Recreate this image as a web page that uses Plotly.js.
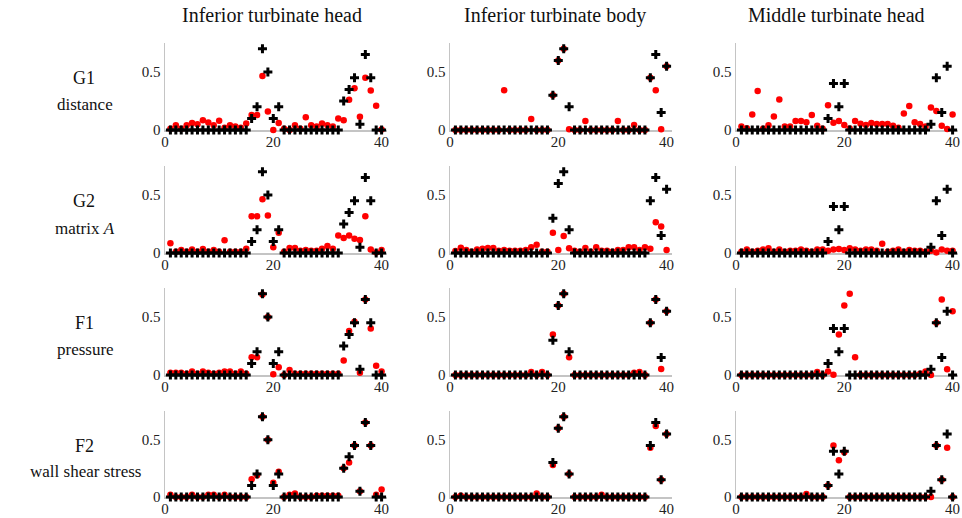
<!DOCTYPE html>
<html>
<head>
<meta charset="utf-8">
<script src="https://cdn.plot.ly/plotly-3.0.1.min.js"></script>
<style>html,body{margin:0;padding:0;background:#fff;}#chart{width:962px;height:518px;}</style>
</head>
<body>
<div id="chart"></div>
<script>
// ---- data ----
const sensorIndex = [1,2,3,4,5,6,7,8,9,10,11,12,13,14,15,16,17,18,19,20,21,22,23,24,25,26,27,28,29,30,31,32,33,34,35,36,37,38,39,40];

const columnTitles = ['Inferior turbinate head', 'Inferior turbinate body', 'Middle turbinate head'];
const rowNames = ['G1', 'G2', 'F1', 'F2'];
const rowSubtitles = ['distance', 'matrix <i>A</i>', 'pressure', 'wall shear stress'];

// ground truth (black +)
const truthHead   = [0,0,0,0,0,0,0,0,0,0,0,0,0,0,0,0.1,0.2,0.7,0.5,0.1,0.2,0,0,0,0,0,0,0,0,0,0,0,0.25,0.35,0.45,0.05,0.65,0.45,0,0];
const truthBody   = [0,0,0,0,0,0,0,0,0,0,0,0,0,0,0,0,0,0,0.3,0.6,0.7,0.2,0,0,0,0,0,0,0,0,0,0,0,0,0,0,0.45,0.65,0.15,0.55];
const truthMiddle = [0,0,0,0,0,0,0,0,0,0,0,0,0,0,0,0,0.1,0.4,0.2,0.4,0,0,0,0,0,0,0,0,0,0,0,0,0,0,0,0.05,0.45,0.15,0.55,0];

// estimates (red dots)
const g1Head   = [0.01,0.04,0.01,0.04,0.06,0.05,0.085,0.065,0.04,0.08,0.02,0.04,0.03,0.02,0.055,0.13,0.13,0.465,0.16,0.0,0.06,0.01,0.0,0.04,0.01,0.11,0.04,0.03,0.055,0.04,0.03,0.1,0.085,0.26,0.36,0.115,0.45,0.34,0.21,0.005];
const g1Body   = [0,0,0,0,0,0,0,0,0,0.343,0,0,0,0,0.094,0,0,0,0.3,0.6,0.7,0.006,0,0,0.077,0,0,0,0,0,0.077,0,0,0.043,0,0,0.45,0.343,0.006,0.55];
const g1Middle = [0.03,0.015,0.134,0.337,0.01,0.04,0.117,0.263,0.03,0.03,0.077,0.077,0.066,0.129,0.037,0.01,0.214,0.063,0.077,0.043,0.014,0.077,0.054,0.043,0.06,0.051,0.051,0.051,0.037,0.02,0.143,0.206,0.066,0.051,0.03,0.194,0.163,0.037,0.009,0.134];

const g2Head   = [0.083,0.01,0.026,0.01,0.03,0.01,0.034,0.01,0.026,0.01,0.109,0.01,0.01,0.01,0.037,0.317,0.317,0.463,0.323,0.049,0.174,0.01,0.043,0.043,0.02,0.026,0.02,0.02,0.037,0.06,0.037,0.151,0.129,0.151,0.123,0.111,0.317,0.031,0.005,0.026];
const g2Body   = [0.017,0.046,0.026,0.01,0.03,0.037,0.043,0.043,0.02,0.026,0.02,0.02,0.02,0.026,0.049,0.071,0.011,0.01,0.174,0.026,0.146,0.04,0.02,0.01,0.043,0.01,0.049,0.02,0.02,0.01,0.026,0.026,0.049,0.049,0.026,0.049,0.037,0.266,0.229,0.026];
const g2Middle = [0.01,0.03,0.01,0.02,0.03,0.04,0.01,0.03,0.01,0.02,0.02,0.03,0.02,0.01,0.03,0.03,0.02,0.03,0.035,0.025,0.04,0.03,0.02,0.03,0.03,0.02,0.08,0.01,0.02,0.03,0.01,0.025,0.02,0.02,0.01,0.02,0.005,0.03,0.02,0.02];

const f1Head   = [0.02,0.02,0.02,0.01,0.03,0.01,0.03,0.02,0.01,0.02,0.03,0.03,0.01,0.03,0.01,0.154,0.154,0.695,0.5,0.006,0.067,0.0,0.044,0.01,0.01,0.01,0.01,0.01,0.01,0.01,0.01,0.01,0.125,0.38,0.46,0.02,0.65,0.40,0.08,0.03];
const f1Body   = [0,0,0,0,0,0,0,0,0,0,0,0,0,0,0.026,0,0.026,0,0.35,0.6,0.7,0.154,0,0,0,0,0,0,0,0,0,0,0,0.02,0.026,0,0.45,0.65,0.052,0.55];
const f1Middle = [0,0,0,0,0,0,0,0,0,0,0,0,0,0,0.026,0,0.03,0.003,0.35,0.6,0.7,0.154,0,0,0,0,0,0,0,0,0,0,0,0.01,0.03,0.0,0.45,0.65,0.05,0.55];

const f2Head   = [0.02,0,0,0,0.02,0,0,0.02,0.02,0,0.02,0,0,0,0,0.155,0.19,0.7,0.5,0.125,0.22,0,0.02,0.03,0,0,0,0.01,0.01,0.01,0.01,0.01,0.25,0.30,0.45,0.05,0.65,0.45,0.02,0.065];
const f2Body   = [0,0.01,0,0,0,0,0,0,0,0,0,0,0,0,0,0.03,0,0,0.28,0.6,0.7,0.2,0,0,0,0,0,0.02,0,0,0,0,0,0,0,0,0.43,0.62,0.15,0.55];
const f2Middle = [0,0,0,0,0,0,0,0,0,0,0,0,0.026,0,0,0,0.1,0.45,0.32,0.39,0,0,0,0,0,0,0,0,0,0,0,0,0,0,0,0.0,0.45,0.15,0.43,0];

const xTickVals = [0, 20, 40];
const yTickVals = [0, 0.5];
const yTickText = ['0', '0.5'];

// ---- build ----
const truths = [truthHead, truthBody, truthMiddle];
const estimates = [
  [g1Head, g1Body, g1Middle],
  [g2Head, g2Body, g2Middle],
  [f1Head, f1Body, f1Middle],
  [f2Head, f2Body, f2Middle]
];

const W = 962, H = 518;
const colPx = [[165, 387], [450, 672], [736, 958]];
const rowPx = [[43, 130], [166, 253], [288, 375], [411, 497]];
const font = '"Liberation Serif", "Times New Roman", serif';

const data = [];
const layout = {
  width: W, height: H,
  margin: {l: 0, r: 0, t: 0, b: 0},
  paper_bgcolor: '#fff', plot_bgcolor: '#fff',
  showlegend: false,
  font: {family: font, color: '#222', size: 15},
  annotations: []
};

for (let r = 0; r < 4; r++) {
  for (let c = 0; c < 3; c++) {
    const n = r * 3 + c + 1;
    const xa = n === 1 ? 'x' : 'x' + n;
    const ya = n === 1 ? 'y' : 'y' + n;
    data.push({
      type: 'scatter', mode: 'markers', x: sensorIndex, y: estimates[r][c],
      xaxis: xa, yaxis: ya, cliponaxis: false, hoverinfo: 'skip',
      marker: {symbol: 'circle', size: 6.5, color: '#ff0000', line: {width: 0}}
    });
    data.push({
      type: 'scatter', mode: 'markers', x: sensorIndex, y: truths[c],
      xaxis: xa, yaxis: ya, cliponaxis: false, hoverinfo: 'skip',
      marker: {symbol: 'cross', size: 7.5, color: '#000000', line: {width: 0}}
    });
    const axBase = {
      showgrid: false, zeroline: false, showline: true, layer: 'below traces',
      linecolor: '#c4c4c4', linewidth: 1.5, ticks: '',
      tickfont: {family: font, size: 15, color: '#222'}
    };
    layout['xaxis' + (n === 1 ? '' : n)] = Object.assign({}, axBase, {
      domain: [colPx[c][0] / W, colPx[c][1] / W],
      range: [0, 41], tickvals: xTickVals, anchor: ya, ticklabelstandoff: -3
    });
    layout['yaxis' + (n === 1 ? '' : n)] = Object.assign({}, axBase, {
      domain: [1 - rowPx[r][1] / H, 1 - rowPx[r][0] / H],
      range: [0, 0.75], tickvals: yTickVals, ticktext: yTickText, anchor: xa
    });
  }
}

const titleX = [272, 555, 836];
columnTitles.forEach((t, i) => {
  layout.annotations.push({
    text: t, xref: 'paper', yref: 'paper', x: titleX[i] / W, y: 1 - 15 / H,
    xanchor: 'center', yanchor: 'middle', showarrow: false,
    font: {family: font, size: 20, color: '#111'}
  });
});

const rowNameY = [78, 201, 323, 446];
const rowSubY = [104, 228, 349, 471];
rowNames.forEach((t, i) => {
  layout.annotations.push({
    text: t, xref: 'paper', yref: 'paper', x: 84 / W, y: 1 - rowNameY[i] / H,
    xanchor: 'center', yanchor: 'middle', showarrow: false,
    font: {family: font, size: 18, color: '#111'}
  });
  layout.annotations.push({
    text: rowSubtitles[i], xref: 'paper', yref: 'paper', x: 85 / W, y: 1 - rowSubY[i] / H,
    xanchor: 'center', yanchor: 'middle', showarrow: false,
    font: {family: font, size: 17, color: '#111'}
  });
});

Plotly.newPlot('chart', data, layout, {staticPlot: true, displayModeBar: false});
</script>
</body>
</html>
